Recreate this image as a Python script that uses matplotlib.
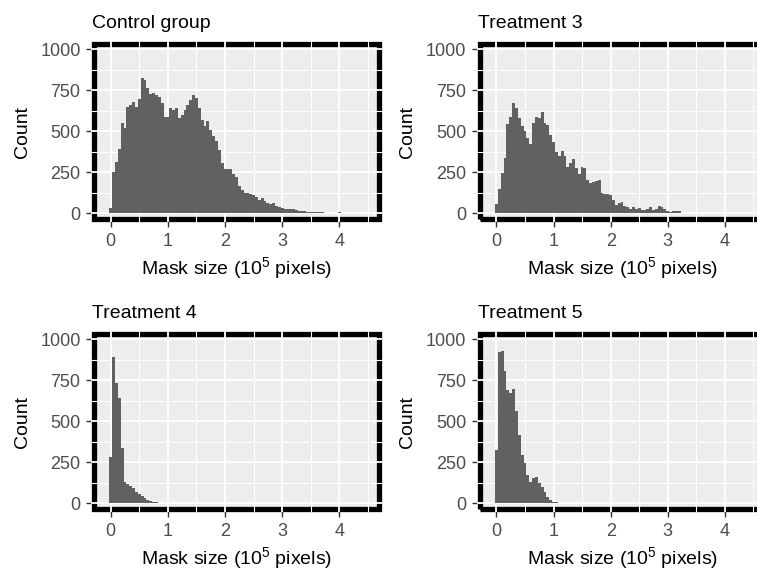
import numpy as np
import matplotlib
matplotlib.use("Agg")
import matplotlib.pyplot as plt
from matplotlib.patches import Rectangle
from matplotlib.transforms import blended_transform_factory

plt.rcParams['font.family'] = ['Liberation Sans', 'DejaVu Sans']
plt.rcParams['mathtext.default'] = 'regular'

# ---------------- data ----------------
bin_width = 0.05

titles = ["Control group", "Treatment 3", "Treatment 4", "Treatment 5"]

control_counts = [30, 250, 315, 390, 553, 522, 646, 660, 681, 650,
                  697, 827, 813, 766, 726, 732, 722, 711, 671, 590,
                  590, 640, 630, 640, 580, 600, 630, 660, 690, 722,
                  700, 640, 570, 530, 560, 505, 470, 440, 386, 305,
                  268, 268, 272, 240, 224, 165, 142, 122, 126, 118,
                  112, 102, 81, 91, 77, 61, 57, 61, 45, 37,
                  33, 28, 26, 28, 24, 20, 16, 14, 12, 10,
                  8, 7, 6, 6, 5, 4, 3, 4, 2, 3,
                  10, 2, 1]

treatment3_counts = [55, 148, 244, 335, 543, 590, 671, 640, 580, 533,
                     502, 457, 421, 549, 590, 580, 616, 549, 539, 478,
                     433, 376, 350, 380, 352, 281, 305, 329, 274, 240,
                     285, 274, 200, 185, 190, 195, 200, 122, 118, 118,
                     112, 81, 51, 65, 67, 45, 37, 28, 37, 28,
                     33, 20, 20, 24, 41, 20, 24, 45, 37, 24,
                     14, 10, 16, 12, 12, 2, 2, 1, 3, 1,
                     2, 3, 2, 1, 0, 1, 0, 0, 0, 0, 1]

treatment4_counts = [280, 894, 736, 640, 335, 132, 118, 108, 91, 68,
                     56, 42, 30, 22, 15, 10, 6, 4, 2, 1]

treatment5_counts = [325, 925, 931, 809, 691, 675, 695, 565, 417, 295,
                     248, 173, 132, 152, 163, 126, 102, 67, 41, 20,
                     8, 5, 3, 2, 2, 1]

all_counts = [control_counts, treatment3_counts, treatment4_counts, treatment5_counts]

x_ticks = [0, 1, 2, 3, 4]
x_minor = [0.5, 1.5, 2.5, 3.5, 4.5]
y_ticks = [0, 250, 500, 750, 1000]
y_minor = [125, 375, 625, 875]
x_label = "Mask size (10$^5$ pixels)"
y_label = "Count"

# ---------------- figure ----------------
W, H = 757, 570
fig = plt.figure(figsize=(W / 100, H / 100), dpi=100)

ax_w_px, ax_h_px = 285.1, 174.8
lefts_px = [94.2, 479.8, 94.2, 479.8]
tops_px = [44.2, 44.2, 334.2, 334.2]

bar_color = '#616161'
panel_bg = '#EDEDED'

for i in range(4):
    l = lefts_px[i] / W
    b = 1 - (tops_px[i] + ax_h_px) / H
    ax = fig.add_axes([l, b, ax_w_px / W, ax_h_px / H])
    ax.set_facecolor(panel_bg)
    for s in ax.spines.values():
        s.set_visible(False)
    ax.set_xlim(-0.29, 4.70)
    ax.set_ylim(-35, 1031)

    counts = np.array(all_counts[i], dtype=float)
    centers = np.arange(len(counts)) * bin_width
    ax.bar(centers, counts, width=bin_width, color=bar_color, linewidth=0, zorder=3)

    # thick black border
    ax.add_patch(Rectangle((0, 0), 1, 1, transform=ax.transAxes, fill=False,
                           edgecolor='black', linewidth=3.8, clip_on=False, zorder=1))
    # gridlines crossing the border
    ex = 2.8 / ax_w_px
    ey = 2.8 / ax_h_px
    tx = blended_transform_factory(ax.transData, ax.transAxes)
    ty = blended_transform_factory(ax.transAxes, ax.transData)
    for gx in x_ticks:
        ax.plot([gx, gx], [-ey, 1 + ey], transform=tx, color='white', lw=1.3,
                clip_on=False, zorder=2, solid_capstyle='butt')
    for gx in x_minor:
        ax.plot([gx, gx], [-ey, 1 + ey], transform=tx, color='white', lw=0.8,
                clip_on=False, zorder=2, solid_capstyle='butt')
    for gy in y_ticks:
        ax.plot([-ex, 1 + ex], [gy, gy], transform=ty, color='white', lw=1.3,
                clip_on=False, zorder=2, solid_capstyle='butt')
    for gy in y_minor:
        ax.plot([-ex, 1 + ex], [gy, gy], transform=ty, color='white', lw=0.8,
                clip_on=False, zorder=2, solid_capstyle='butt')

    ax.set_xticks(x_ticks)
    ax.set_xticklabels([str(t) for t in x_ticks])
    ax.set_yticks(y_ticks)
    ax.set_yticklabels([str(t) for t in y_ticks])
    ax.tick_params(axis='both', length=5.6, width=1.0, color='#333333',
                   labelcolor='#4D4D4D', labelsize=13, pad=4.2)

    ax.set_xlabel(x_label, fontsize=14, color='black')
    ax.xaxis.set_label_coords(0.5, -0.205)
    ax.set_ylabel(y_label, fontsize=14, color='black', va='center')
    ax.yaxis.set_label_coords(-72.2 / ax_w_px, 0.5)

    fig.text((lefts_px[i] - 2) / W, 1 - (tops_px[i] - 16.7) / H, titles[i],
             fontsize=14, color='black', ha='left', va='baseline')

fig.savefig("out.png", dpi=100)
